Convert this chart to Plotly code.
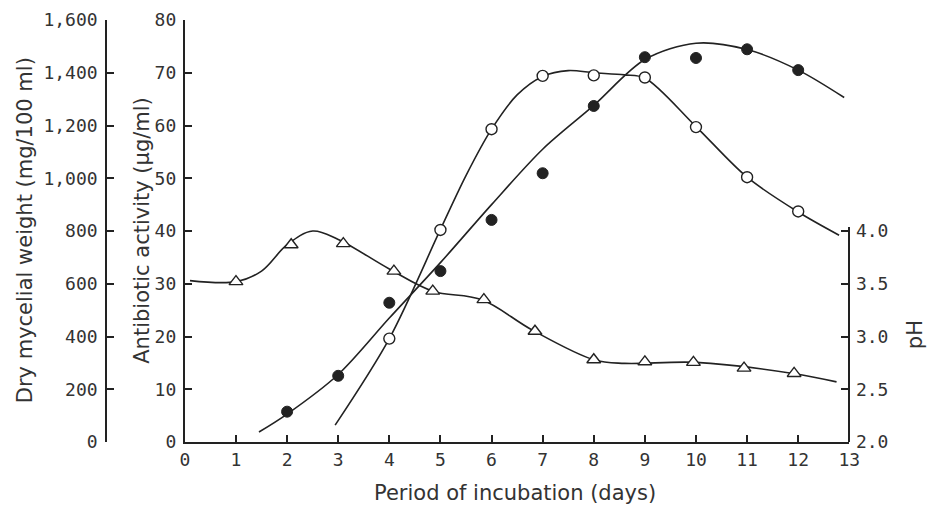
import plotly.graph_objects as go

# ---- data ----
x_ticks = list(range(0, 14))
activity_ticks = [0, 10, 20, 30, 40, 50, 60, 70, 80]
weight_ticks = [0, 200, 400, 600, 800, 1000, 1200, 1400, 1600]
ph_ticks = [2.0, 2.5, 3.0, 3.5, 4.0]

# Antibiotic activity (open circles), µg/ml
act_days = [4, 5, 6, 7, 8, 9, 10, 11, 12]
act_vals = [19.6, 40.2, 59.3, 69.4, 69.5, 69.1, 59.7, 50.2, 43.7]
# fitted curve for activity
act_fit_days = [2.94, 4.0, 5.0, 5.5, 6.0, 6.5, 7.0, 7.5, 8.0, 8.6, 9.0, 10.0, 11.0, 12.0, 12.8]
act_fit_vals = [3.2, 19.6, 40.3, 50.5, 59.3, 65.8, 69.3, 70.4, 70.0, 69.6, 69.0, 59.8, 50.2, 43.6, 39.2]

# Dry mycelial weight (filled circles), mg/100 ml
dry_days = [2, 3, 4, 5, 6, 7, 8, 9, 10, 11, 12]
dry_vals = [115, 251, 528, 648, 842, 1019, 1274, 1459, 1456, 1489, 1410]
# fitted curve for dry weight
dry_fit_days = [1.45, 2.0, 3.0, 4.0, 5.0, 6.0, 7.0, 8.0, 9.0, 10.0, 11.0, 12.0, 12.9]
dry_fit_vals = [38, 106, 256, 470, 680, 900, 1110, 1276, 1450, 1512, 1488, 1410, 1306]

# pH (open triangles)
ph_days = [1.0, 2.08, 3.1, 4.09, 4.85, 5.85, 6.85, 8.0, 9.0, 9.95, 10.94, 11.92]
ph_vals = [3.52, 3.87, 3.88, 3.62, 3.43, 3.35, 3.05, 2.78, 2.76, 2.755, 2.70, 2.65]
# fitted curve for pH
ph_fit_days = [0.1, 1.0, 1.5, 2.0, 2.5, 3.0, 4.0, 4.85, 5.8, 6.8, 8.0, 8.6, 10.0, 11.9, 12.75]
ph_fit_vals = [3.53, 3.52, 3.62, 3.87, 4.0, 3.92, 3.64, 3.43, 3.35, 3.06, 2.78, 2.745, 2.755, 2.65, 2.57]

INK = "#222222"
TXT = "#333333"
MONO = "DejaVu Sans Mono"
SANS = "DejaVu Sans"
W, H = 936, 506
X0, X1 = 183, 859     # pixel positions of plot area
LEFT2 = 103

fig = go.Figure()

# curves
fig.add_trace(go.Scatter(x=act_fit_days, y=act_fit_vals, mode="lines",
                         line=dict(color=INK, width=1.6, shape="spline", smoothing=0.9),
                         xaxis="x", yaxis="y", hoverinfo="skip", showlegend=False))
fig.add_trace(go.Scatter(x=dry_fit_days, y=dry_fit_vals, mode="lines",
                         line=dict(color=INK, width=1.6, shape="spline", smoothing=0.9),
                         xaxis="x", yaxis="y2", hoverinfo="skip", showlegend=False))
fig.add_trace(go.Scatter(x=ph_fit_days, y=ph_fit_vals, mode="lines",
                         line=dict(color=INK, width=1.6, shape="spline", smoothing=1.0),
                         xaxis="x", yaxis="y3", hoverinfo="skip", showlegend=False))

# markers
fig.add_trace(go.Scatter(x=act_days, y=act_vals, mode="markers",
                         marker=dict(symbol="circle", size=11, color="white",
                                     line=dict(color=INK, width=1.4)),
                         xaxis="x", yaxis="y", name="Antibiotic activity", showlegend=False))
fig.add_trace(go.Scatter(x=dry_days, y=dry_vals, mode="markers",
                         marker=dict(symbol="circle", size=11, color=INK,
                                     line=dict(color=INK, width=1)),
                         xaxis="x", yaxis="y2", name="Dry mycelial weight", showlegend=False))
fig.add_trace(go.Scatter(x=ph_days, y=ph_vals, mode="markers",
                         marker=dict(symbol="triangle-up", size=12, color="white",
                                     line=dict(color=INK, width=1.4)),
                         xaxis="x", yaxis="y3", name="pH", showlegend=False, cliponaxis=False))

tickfont = dict(family=MONO, size=18, color=TXT)
axis_common = dict(showgrid=False, zeroline=False, showline=True, linecolor=INK,
                   linewidth=2, ticks="inside", tickcolor=INK, tickwidth=1.6,
                   ticklen=7, tickfont=tickfont)

fig.update_layout(
    width=W, height=H,
    margin=dict(l=0, r=0, t=20, b=64),
    paper_bgcolor="white", plot_bgcolor="rgba(0,0,0,0)",
    showlegend=False,
    xaxis=dict(domain=[X0 / W, X1 / W], range=[0, 13], tickmode="array",
               tickvals=x_ticks, anchor="y", **axis_common),
    yaxis=dict(range=[0, 80], tickmode="array", tickvals=activity_ticks,
               anchor="x", side="left", ticklabelstandoff=3, **axis_common),
    yaxis2=dict(range=[0, 1600], tickmode="array", tickvals=weight_ticks,
                tickformat=",", overlaying="y", anchor="free",
                position=LEFT2 / W, side="left", ticklabelstandoff=4, **axis_common),
    yaxis3=dict(range=[2, 4.04], domain=[0, 0.51], tickmode="array",
                tickvals=ph_ticks, tickformat=".1f", anchor="free",
                position=X1 / W, side="right", ticklabelstandoff=2, **axis_common),
)

title_font = dict(family=SANS, size=21, color=TXT)
ann = [
    dict(text="Dry mycelial weight (mg/100 ml)", x=20 / W, y=0.501, textangle=-90),
    dict(text="Antibiotic activity (\u03bcg/ml)", x=140 / W, y=0.502, textangle=-90),
    dict(text="pH", x=926 / W, y=0.2536, textangle=-90),
    dict(text="Period of incubation (days)", x=519 / W, y=-0.121, textangle=0),
]
for a in ann:
    fig.add_annotation(xref="paper", yref="paper", showarrow=False,
                       xanchor="center", yanchor="middle", font=title_font, **a)

fig.write_html("out.html",
               config={"displayModeBar": False},
               post_script="document.body.style.margin='0px';document.body.style.overflow='hidden';")
